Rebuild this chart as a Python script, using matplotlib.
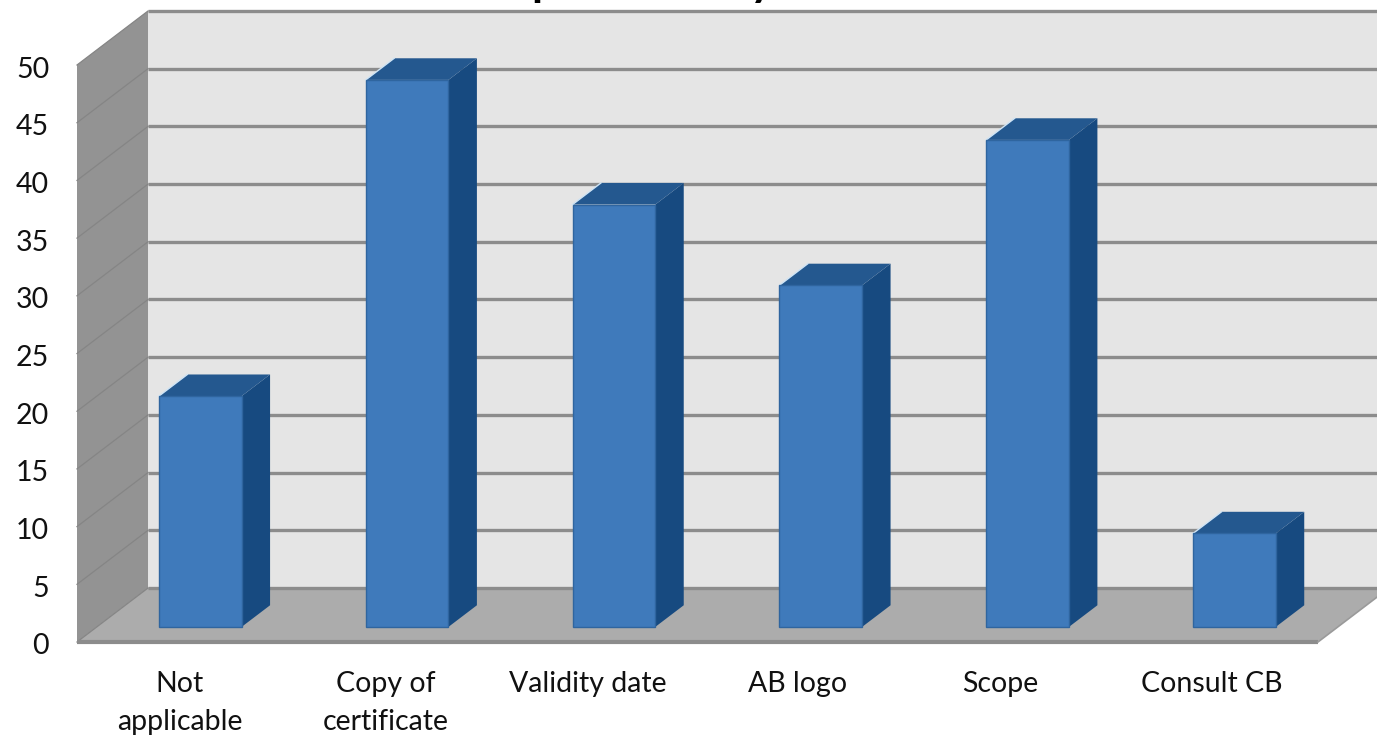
import matplotlib
matplotlib.use("Agg")
import matplotlib.pyplot as plt
from matplotlib.patches import Polygon
from matplotlib.transforms import ScaledTranslation

categories = ["Not\napplicable", "Copy of\ncertificate", "Validity date", "AB logo", "Scope", "Consult CB"]
values = [20, 47.4, 36.6, 29.6, 42.2, 8.1]
y_ticks = list(range(0, 55, 5))
# what is left of the title above the top edge: only these two descenders
title_bits = ["p", "y"]

# obliquity of the fake 3d box, in category / value units per full depth
DX = 71 / 206.8
DY = 4.68
BAR_D0 = 0.28
BAR_D1 = 0.68
BAR_W = 0.40

W, H = 1377, 737
plt.rcParams["font.family"] = ["Lato", "DejaVu Sans"]
fig = plt.figure(figsize=(W / 100, H / 100), dpi=100, facecolor="white")
ax = fig.add_axes([77 / W, 1 - 642 / H, 1241 / W, 577 / H])
ax.set_xlim(0, len(categories))
ax.set_ylim(0, 50)
for s in ax.spines.values():
    s.set_visible(False)
ax.patch.set_visible(False)


def pt(x, v, d):
    return (x + d * DX, v + d * DY)


def poly(points, fc, ec="none", lw=0, z=1):
    ax.add_patch(Polygon(points, closed=True, facecolor=fc, edgecolor=ec, linewidth=lw,
                         zorder=z, clip_on=False))


n = len(categories)
# back wall, side wall, floor
poly([pt(0, 0, 1), pt(n, 0, 1), pt(n, 50, 1), pt(0, 50, 1)], "#e5e5e5")
poly([pt(0, 0, 0), pt(0, 0, 1), pt(0, 50, 1), pt(0, 50, 0)], "#939393")
poly([pt(0, 0, 0), pt(n, 0, 0), pt(n, 0, 1), pt(0, 0, 1)], "#acacac")

# gridlines run along the side wall then across the back
for t in y_ticks:
    a, b, c = pt(0, t, 0), pt(0, t, 1), pt(n, t, 1)
    ax.plot([a[0], b[0]], [a[1], b[1]], color="#858585", lw=0.9, zorder=2, clip_on=False)
    ax.plot([b[0], c[0]], [b[1], c[1]], color="#8c8c8c", lw=2.4, zorder=2, clip_on=False,
            solid_capstyle="butt")
ax.plot([0, n], [0, 0], color="#8c8c8c", lw=3.0, zorder=2, clip_on=False, solid_capstyle="butt")
ax.plot([n, n + DX], [0, DY], color="#9a9a9a", lw=1.2, zorder=2, clip_on=False)

# bars: front face via bar(), top and side as polygons
for i, v in enumerate(values):
    x0 = i + 0.5 - BAR_W / 2
    x1 = i + 0.5 + BAR_W / 2
    base = BAR_D0 * DY
    poly([pt(x1, 0, BAR_D0), pt(x1, 0, BAR_D1), pt(x1, v, BAR_D1), pt(x1, v, BAR_D0)], "#174a80", z=4)
    poly([pt(x0, v, BAR_D0), pt(x1, v, BAR_D0), pt(x1, v, BAR_D1), pt(x0, v, BAR_D1)], "#24588f", z=4)
    # pale rim along the upper left diagonal
    e0, e1 = pt(x0, v, BAR_D0), pt(x0, v, BAR_D1)
    ax.plot([e0[0], e1[0]], [e0[1], e1[1]], color="#cfe4f5", lw=1.0, zorder=4, clip_on=False)
    ax.bar(x0 + BAR_D0 * DX, v, width=BAR_W, bottom=base, align="edge", color="#3f7abb",
           edgecolor="#2f659f", linewidth=1.0, zorder=5, clip_on=False)

# label centres sit a few pixels left of the slots
label_shift = [-1, -1, -6, -3, -7, -3]
ax.set_yticks(y_ticks)
ax.set_xticks([i + 0.5 + s / 206.8 for i, s in enumerate(label_shift)])
ax.set_xticklabels(categories, fontsize=20.5, color="#111111", linespacing=1.55, va="top")
ax.tick_params(axis="both", length=0)
ax.tick_params(axis="x", pad=21)
ax.tick_params(axis="y", pad=20, labelsize=20.5, labelcolor="#111111")

# nudge the value labels down a touch
nudge = ScaledTranslation(0, -2 / 100, fig.dpi_scale_trans)
for lab in ax.get_yticklabels():
    lab.set_transform(lab.get_transform() + nudge)

for ch, px in zip(title_bits, [531, 750]):
    fig.text(px / W, 1 + 4 / H, ch, fontsize=32, fontweight="bold", color="black",
             ha="left", va="baseline")

plt.savefig("out.png", dpi=100)
